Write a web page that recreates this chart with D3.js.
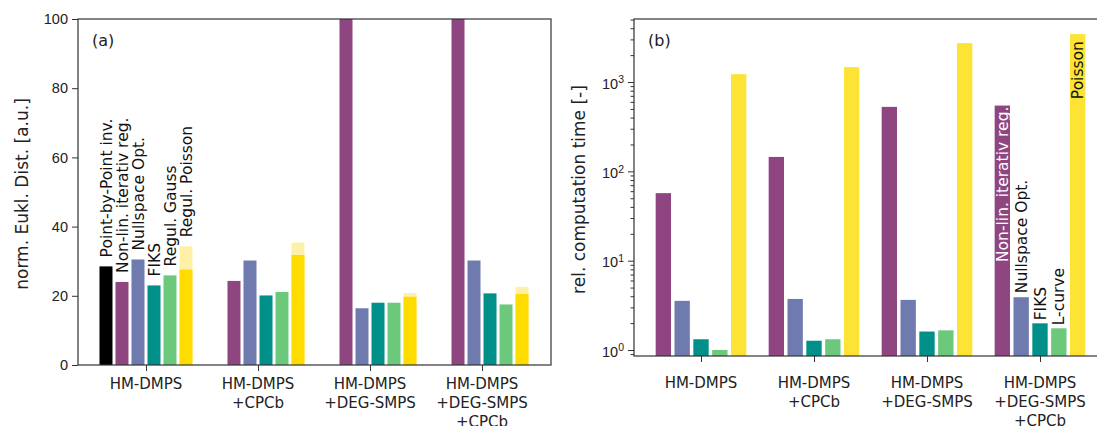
<!DOCTYPE html>
<html>
<head>
<meta charset="utf-8">
<script src="https://cdn.jsdelivr.net/npm/d3@7"></script>
<style>
  body { margin: 0; background: #fff; }
  svg { font-family: "DejaVu Sans", sans-serif; }
  .axis path, .axis line { stroke: #333; }
  .axis text { fill: #222; font-size: 14.5px; }
</style>
</head>
<body>
<div id="chart"></div>
<script>
// categories
var groups = ["HM-DMPS", "HM-DMPS\n+CPCb", "HM-DMPS\n+DEG-SMPS", "HM-DMPS\n+DEG-SMPS\n+CPCb"];

// (a) normalised euclidean distance
var methodsA = ["Point-by-Point inv.", "Non-lin. iterativ reg.", "Nullspace Opt.", "FIKS", "Regul. Gauss", "Regul. Poisson"];
var distPointByPoint = [28.5, null, null, null];
var distNonLin = [24.0, 24.3, 160, 160];
var distNullspace = [30.5, 30.2, 16.4, 30.2];
var distFiks = [23.0, 20.1, 18.0, 20.7];
var distGauss = [25.9, 21.1, 18.0, 17.5];
var distPoisson = [27.6, 31.8, 19.7, 20.5];
var distPoissonUpper = [34.3, 35.4, 20.8, 22.6];
var yTicksA = [0, 20, 40, 60, 80, 100];

// (b) relative computation time
var methodsB = ["Non-lin. iterativ reg.", "Nullspace Opt.", "FIKS", "L-curve", "Poisson"];
var timeNonLin = [57, 145, 527, 545];
var timeNullspace = [3.55, 3.73, 3.64, 3.9];
var timeFiks = [1.32, 1.27, 1.61, 1.99];
var timeLcurve = [1.0, 1.32, 1.66, 1.75];
var timePoisson = [1224, 1467, 2725, 3438];
var yTicksB = [1, 10, 100, 1000];

var colorsA = ["#000000", "#8e4580", "#6f7aaf", "#009089", "#6cc87a", "#ffdc00"];
var poissonLight = "#fff0a8";
var colorsB = ["#8e4580", "#6f7aaf", "#009089", "#6cc87a", "#fde334"];

var W = 1097, H = 426;
var svg = d3.select("#chart").append("svg")
    .attr("width", W)
    .attr("height", H);

// ---------- panel (a) ----------
var a = {left: 78, right: 551, top: 19, bottom: 365};
var xA = d3.scaleLinear().domain([-0.607, 3.616]).range([a.left, a.right]);
var yA = d3.scaleLinear().domain([0, 100]).range([a.bottom, a.top]);
var stepA = 1 / 7;

svg.append("clipPath").attr("id", "clipA")
    .append("rect")
    .attr("x", a.left).attr("y", a.top)
    .attr("width", a.right - a.left).attr("height", a.bottom - a.top);

var seriesA = [distPointByPoint, distNonLin, distNullspace, distFiks, distGauss, distPoisson];
var barWA = xA(stepA) - xA(0) - 3;
var gA = svg.append("g").attr("clip-path", "url(#clipA)");

// light upper part of the Poisson bars
gA.selectAll(".upper")
    .data(distPoissonUpper)
    .enter()
    .append("rect")
    .attr("x", function (d, j) { return xA(j + (5 - 2.5) * stepA) - barWA / 2; })
    .attr("y", function (d) { return yA(d); })
    .attr("width", barWA)
    .attr("height", function (d) { return yA(0) - yA(d); })
    .style("fill", poissonLight);

seriesA.forEach(function (vals, i) {
    gA.selectAll(".s" + i)
        .data(vals.map(function (v, j) { return {g: j, v: v}; }).filter(function (d) { return d.v != null; }))
        .enter()
        .append("rect")
        .attr("x", function (d) { return xA(d.g + (i - 2.5) * stepA) - barWA / 2; })
        .attr("y", function (d) { return yA(d.v); })
        .attr("width", barWA)
        .attr("height", function (d) { return yA(0) - yA(d.v); })
        .style("fill", colorsA[i]);
});

// method labels over the first group
var topsA = [distPointByPoint[0], distNonLin[0], distNullspace[0], distFiks[0], distGauss[0], distPoissonUpper[0]];
methodsA.forEach(function (m, i) {
    var cx = xA((i - 2.5) * stepA), cy = yA(topsA[i]) - 9;
    svg.append("text")
        .attr("transform", "translate(" + cx + "," + cy + ") rotate(-90)")
        .attr("dy", "0.36em")
        .style("font-size", "15.5px")
        .style("fill", "#111")
        .text(m);
});

svg.append("g")
    .attr("class", "axis")
    .attr("transform", "translate(" + a.left + ",0)")
    .call(d3.axisLeft(yA).tickValues(yTicksA).tickSize(6).tickPadding(4))
    .call(function (g) { g.select(".domain").remove(); });

var xAxisA = svg.append("g")
    .attr("class", "axis")
    .attr("transform", "translate(0," + a.bottom + ")")
    .call(d3.axisBottom(xA).tickValues([0, 1, 2, 3]).tickSize(6).tickFormat(""));
xAxisA.select(".domain").remove();

svg.append("rect")
    .attr("x", a.left).attr("y", a.top)
    .attr("width", a.right - a.left).attr("height", a.bottom - a.top)
    .style("fill", "none").style("stroke", "#333").style("stroke-width", 1.2);

svg.append("text")
    .attr("x", 92).attr("y", 46)
    .style("font-size", "16px").style("fill", "#222")
    .text("(a)");

svg.append("text")
    .attr("transform", "translate(28," + ((a.top + a.bottom) / 2 + 2) + ") rotate(-90)")
    .attr("text-anchor", "middle")
    .style("font-size", "17px").style("fill", "#222")
    .text("norm. Eukl. Dist. [a.u.]");

// ---------- panel (b) ----------
var b = {left: 634, right: 1107, top: 19, bottom: 356};
var xB = d3.scaleLinear().domain([-0.593, 3.593]).range([b.left, b.right]);
var yB = d3.scaleLog().domain([0.857, 5075]).range([b.bottom, b.top]);
var stepB = 1 / 6;
var barWB = xB(stepB) - xB(0) - 3.5;

var seriesB = [timeNonLin, timeNullspace, timeFiks, timeLcurve, timePoisson];
seriesB.forEach(function (vals, i) {
    svg.selectAll(".b" + i)
        .data(vals.map(function (v, j) { return {g: j, v: v}; }))
        .enter()
        .append("rect")
        .attr("x", function (d) { return xB(d.g + (i - 2) * stepB) - barWB / 2; })
        .attr("y", function (d) { return yB(d.v); })
        .attr("width", barWB)
        .attr("height", function (d) { return b.bottom - yB(d.v); })
        .style("fill", colorsB[i]);
});

// method labels on the last group
var labB = [
    {i: 0, anchor: "end", off: 1, fill: "#fff"},
    {i: 1, anchor: "start", off: -4, fill: "#111"},
    {i: 2, anchor: "start", off: -3, fill: "#111"},
    {i: 3, anchor: "start", off: -3, fill: "#111"},
    {i: 4, anchor: "end", off: 7, fill: "#111"}
];
labB.forEach(function (l) {
    var cx = xB(3 + (l.i - 2) * stepB), cy = yB(seriesB[l.i][3]) + l.off;
    svg.append("text")
        .attr("transform", "translate(" + cx + "," + cy + ") rotate(-90)")
        .attr("text-anchor", l.anchor)
        .attr("dy", "0.36em")
        .style("font-size", "15.5px")
        .style("fill", l.fill)
        .text(methodsB[l.i]);
});

// log axis with minor ticks
var minor = [];
[0.1, 1, 10, 100, 1000].forEach(function (dec) {
    for (var k = 2; k <= 9; k++) {
        var v = dec * k;
        if (v >= yB.domain()[0] && v <= yB.domain()[1]) minor.push(v);
    }
});
svg.append("g")
    .attr("class", "axis")
    .attr("transform", "translate(" + b.left + ",0)")
    .call(d3.axisLeft(yB).tickValues(minor).tickSize(3.5).tickFormat(""))
    .call(function (g) { g.select(".domain").remove(); });

var yAxisB = svg.append("g")
    .attr("class", "axis")
    .attr("transform", "translate(" + b.left + ",0)")
    .call(d3.axisLeft(yB).tickValues(yTicksB).tickSize(6).tickPadding(4).tickFormat(""));
yAxisB.select(".domain").remove();
yAxisB.selectAll(".tick").append("text")
    .attr("x", -10)
    .attr("dy", "0.42em")
    .attr("text-anchor", "end")
    .style("fill", "#222")
    .each(function (d) {
        var t = d3.select(this);
        t.append("tspan").text("10");
        t.append("tspan").attr("dy", "-0.5em").style("font-size", "10.5px").text(Math.round(Math.log10(d)));
    });

var xAxisB = svg.append("g")
    .attr("class", "axis")
    .attr("transform", "translate(0," + b.bottom + ")")
    .call(d3.axisBottom(xB).tickValues([0, 1, 2, 3]).tickSize(6).tickFormat(""));
xAxisB.select(".domain").remove();

svg.append("rect")
    .attr("x", b.left).attr("y", b.top)
    .attr("width", b.right - b.left).attr("height", b.bottom - b.top)
    .style("fill", "none").style("stroke", "#333").style("stroke-width", 1.2);

svg.append("text")
    .attr("x", 648).attr("y", 46)
    .style("font-size", "16px").style("fill", "#222")
    .text("(b)");

svg.append("text")
    .attr("transform", "translate(585," + ((b.top + b.bottom) / 2 + 2) + ") rotate(-90)")
    .attr("text-anchor", "middle")
    .style("font-size", "17px").style("fill", "#222")
    .text("rel. computation time [-]");

// category labels under both panels (third line runs off the bottom edge, as in the source)
function catLabels(xs, y0) {
    groups.forEach(function (g, j) {
        var t = svg.append("text")
            .attr("text-anchor", "middle")
            .style("font-size", "15px").style("fill", "#222");
        g.split("\n").forEach(function (line, k) {
            t.append("tspan")
                .attr("x", xs(j))
                .attr("y", y0 + k * 19)
                .text(line);
        });
    });
}
catLabels(xA, a.bottom + 24);
catLabels(xB, b.bottom + 32);
</script>
</body>
</html>
